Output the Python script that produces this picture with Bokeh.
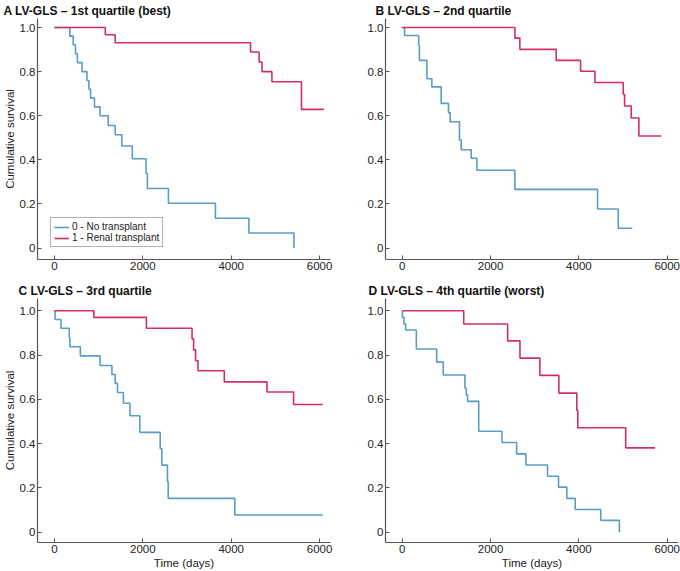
from bokeh.plotting import figure
from bokeh.layouts import column, row
from bokeh.models import Range1d, Legend, LegendItem, FixedTicker
from bokeh.embed import file_html
from bokeh.resources import INLINE

# ---------------- data ----------------
titles = ["A  LV-GLS \u2013 1st quartile (best)", "B  LV-GLS \u2013 2nd quartile",
          "C  LV-GLS \u2013 3rd quartile", "D  LV-GLS \u2013 4th quartile (worst)"]
series_names = ["0 - No transplant", "1 - Renal transplant"]
x_ticks = [0, 2000, 4000, 6000]
y_ticks = [0, 0.2, 0.4, 0.6, 0.8, 1.0]

a_no_t = [0, 349, 424, 476, 520, 625, 736, 781, 818, 907, 1033, 1219, 1375, 1524, 1762, 2074, 2104, 2580, 3643, 4401, 5420]
a_no_s = [1.0, 0.961, 0.922, 0.881, 0.841, 0.800, 0.760, 0.720, 0.680, 0.640, 0.600, 0.556, 0.514, 0.463, 0.405, 0.338, 0.270, 0.203, 0.135, 0.068, 0.0]
a_rt_t = [0, 1152, 1375, 4439, 4632, 4699, 4922, 5591, 6097]
a_rt_s = [1.0, 0.967, 0.931, 0.889, 0.844, 0.800, 0.754, 0.629, 0.629]

b_no_t = [0, 53, 373, 390, 560, 671, 883, 1048, 1086, 1297, 1336, 1562, 1691, 2551, 4423, 4891, 5208]
b_no_s = [1.0, 0.964, 0.92, 0.851, 0.768, 0.731, 0.656, 0.614, 0.573, 0.49, 0.446, 0.407, 0.353, 0.266, 0.177, 0.090, 0.090]
b_rt_t = [0, 2551, 2664, 3487, 4038, 4362, 5004, 5034, 5185, 5358, 5864]
b_rt_s = [1.0, 0.952, 0.901, 0.851, 0.802, 0.751, 0.697, 0.644, 0.590, 0.508, 0.508]

c_no_t = [0, 15, 149, 335, 350, 587, 1033, 1301, 1375, 1428, 1561, 1710, 1933, 2394, 2431, 2558, 2575, 4082, 6074]
c_no_s = [1.0, 0.960, 0.921, 0.880, 0.837, 0.796, 0.753, 0.712, 0.672, 0.631, 0.582, 0.526, 0.451, 0.378, 0.303, 0.228, 0.153, 0.078, 0.078]
c_rt_t = [0, 892, 2082, 3115, 3150, 3195, 3250, 3844, 4810, 5413, 6074]
c_rt_s = [1.0, 0.970, 0.921, 0.873, 0.823, 0.774, 0.729, 0.679, 0.633, 0.577, 0.577]

d_no_t = [0, 5, 40, 80, 320, 780, 930, 1420, 1450, 1480, 1732, 2259, 2590, 2801, 3291, 3539, 3727, 3916, 4495, 4917]
d_no_s = [1.0, 0.970, 0.940, 0.913, 0.827, 0.768, 0.710, 0.650, 0.620, 0.591, 0.456, 0.405, 0.354, 0.304, 0.253, 0.204, 0.153, 0.103, 0.054, 0.0]
d_rt_t = [0, 1393, 2387, 2666, 3117, 3547, 3953, 3975, 5060, 5723]
d_rt_s = [1.0, 0.940, 0.864, 0.786, 0.708, 0.628, 0.550, 0.472, 0.381, 0.381]

# ---------------- style ----------------
BLUE = "#5b9cc6"
RED = "#d1305e"
AXIS = "#555555"
TXT = "#222222"
FONT = "Liberation Sans"


def make_panel(title, no_t, no_s, rt_t, rt_s, left, bottom, title_offset, legend=False):
    w = 340
    h = 280 if not bottom else 291
    x0, x1 = (-383, 6248) if left else (-378, 6255)
    y0, y1 = (-0.046, 1.055) if bottom else (-0.052, 1.041)
    p = figure(width=w, height=h, x_range=Range1d(x0, x1), y_range=Range1d(y0, y1),
               output_backend="svg", toolbar_location=None,
               min_border_left=36 if left else 45,
               min_border_right=10 if left else 2,
               min_border_top=0,
               min_border_bottom=29 if bottom else 21)
    p.outline_line_color = None
    p.grid.visible = False
    p.background_fill_color = "white"
    p.border_fill_color = "white"

    p.title.text = title
    p.title.text_font = FONT
    p.title.text_font_size = "12px"
    p.title.text_font_style = "bold"
    p.title.text_color = "#111111"
    p.title.align = "left"
    p.title.offset = title_offset
    p.title.standoff = 2

    for ax in (p.xaxis[0], p.yaxis[0]):
        ax.axis_line_color = AXIS
        ax.axis_line_width = 1.2
        ax.major_tick_line_color = AXIS
        ax.major_tick_in = 4
        ax.major_tick_out = 0
        ax.minor_tick_line_color = None
        ax.major_label_text_font = FONT
        ax.major_label_text_font_size = "11.5px"
        ax.major_label_text_color = TXT
        ax.major_label_standoff = 2
        ax.axis_label_text_font = FONT
        ax.axis_label_text_font_size = "11.5px"
        ax.axis_label_text_font_style = "normal"
        ax.axis_label_text_color = TXT
        ax.axis_label_standoff = 1

    p.xaxis.ticker = FixedTicker(ticks=x_ticks)
    p.yaxis.ticker = FixedTicker(ticks=y_ticks)
    p.yaxis.major_label_overrides = {0: "0", 1: "1.0"}
    p.yaxis.axis_label = "Cumulative survival" if left else None
    p.xaxis.axis_label = "Time (days)" if bottom else None

    rb = p.step(no_t, no_s, mode="after", line_color=BLUE, line_width=1.6)
    rr = p.step(rt_t, rt_s, mode="after", line_color=RED, line_width=1.6)

    if legend:
        lg = Legend(items=[LegendItem(label=series_names[0], renderers=[rb]),
                           LegendItem(label=series_names[1], renderers=[rr])],
                    location=(13, 12))
        lg.label_text_font = FONT
        lg.label_text_font_size = "10px"
        lg.label_text_color = TXT
        lg.label_height = 10
        lg.label_standoff = 3
        lg.glyph_width = 15
        lg.glyph_height = 8
        lg.spacing = 0
        lg.padding = 3
        lg.margin = 0
        lg.border_line_color = "#666666"
        lg.border_line_width = 1
        lg.background_fill_alpha = 1.0
        p.add_layout(lg)
    return p


pa = make_panel(titles[0], a_no_t, a_no_s, a_rt_t, a_rt_s, left=True, bottom=False, title_offset=-34, legend=True)
pb = make_panel(titles[1], b_no_t, b_no_s, b_rt_t, b_rt_s, left=False, bottom=False, title_offset=-10)
pc = make_panel(titles[2], c_no_t, c_no_s, c_rt_t, c_rt_s, left=True, bottom=True, title_offset=-19)
pd = make_panel(titles[3], d_no_t, d_no_s, d_rt_t, d_rt_s, left=False, bottom=True, title_offset=-17)

layout = column(row(pa, pb, spacing=0), row(pc, pd, spacing=0), spacing=0)

with open("out.html", "w") as f:
    f.write(file_html(layout, INLINE))
